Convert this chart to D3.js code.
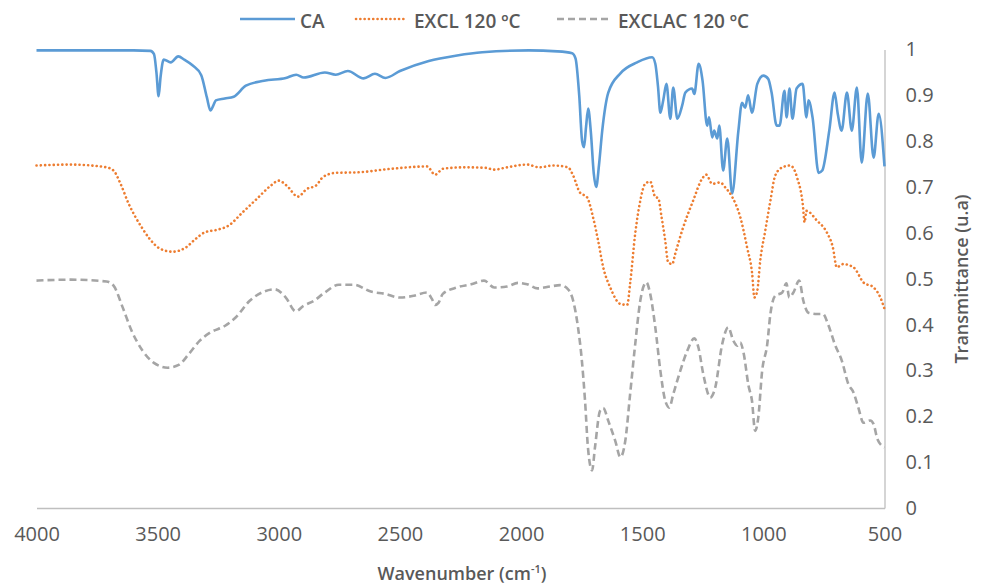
<!DOCTYPE html>
<html>
<head>
<meta charset="utf-8">
<script src="https://cdnjs.cloudflare.com/ajax/libs/d3/7.8.5/d3.min.js"></script>
<style>
  html, body { margin: 0; padding: 0; background: #ffffff; }
  svg { display: block; }
  text { font-family: "Open Sans", "Noto Sans", sans-serif; fill: #595959; }
</style>
</head>
<body>
<svg id="chart" width="983" height="586"></svg>
<script>
// ---------- DATA ----------
const seriesNames = ["CA", "EXCL 120 ºC", "EXCLAC 120 ºC"];
const xTicks = [4000, 3500, 3000, 2500, 2000, 1500, 1000, 500];
const yTicks = [0, 0.1, 0.2, 0.3, 0.4, 0.5, 0.6, 0.7, 0.8, 0.9, 1];

const caWave = [4000,3600,3530,3515,3505,3496,3488,3475,3446,3415,3390,3355,3320,3297,3282,3270,3260,3223,3186,3136,3061,2971,2928,2897,2810,2765,2715,2650,2603,2560,2500,2381,2264,2160,1968,1850,1789,1775,1760,1748,1740,1732,1723,1712,1700,1690,1678,1665,1640,1590,1521,1459,1446,1435,1425,1413,1400,1384,1372,1355,1335,1322,1294,1285,1267,1251,1232,1224,1211,1203,1190,1182,1166,1149,1129,1103,1088,1075,1063,1047,1025,1000,980,966,945,933,913,904,892,880,863,838,822,814,797,772,757,728,706,693,677,655,635,614,594,569,545,524,500];
const caT = [0.998,0.998,0.997,0.99,0.95,0.898,0.94,0.978,0.972,0.985,0.978,0.965,0.944,0.896,0.867,0.878,0.889,0.893,0.897,0.921,0.932,0.938,0.945,0.939,0.95,0.945,0.953,0.937,0.947,0.938,0.953,0.975,0.987,0.994,0.998,0.996,0.992,0.98,0.90,0.80,0.787,0.83,0.871,0.82,0.73,0.70,0.75,0.823,0.906,0.948,0.972,0.983,0.969,0.92,0.862,0.89,0.925,0.849,0.917,0.849,0.878,0.906,0.915,0.903,0.969,0.932,0.834,0.852,0.808,0.823,0.806,0.834,0.736,0.806,0.686,0.823,0.884,0.873,0.90,0.862,0.925,0.943,0.936,0.906,0.834,0.834,0.91,0.852,0.915,0.849,0.915,0.925,0.852,0.889,0.852,0.731,0.736,0.823,0.906,0.86,0.823,0.906,0.823,0.917,0.753,0.904,0.764,0.86,0.745];

const exclWave = [4000,3859,3711,3682,3653,3620,3591,3562,3533,3488,3438,3384,3343,3306,3253,3207,3149,3091,3033,3000,2967,2921,2884,2847,2817,2764,2677,2532,2388,2355,2322,2235,2148,2111,2058,1975,1925,1868,1806,1785,1757,1728,1703,1682,1661,1632,1590,1562,1550,1529,1508,1488,1467,1446,1434,1420,1405,1393,1376,1364,1331,1290,1253,1236,1211,1178,1157,1128,1095,1067,1046,1037,1025,1013,992,971,951,922,889,861,836,830,822,779,738,713,697,671,628,587,545,517,500];
const exclT = [0.747,0.749,0.743,0.736,0.707,0.664,0.634,0.609,0.587,0.565,0.559,0.568,0.587,0.601,0.607,0.616,0.645,0.674,0.703,0.714,0.703,0.679,0.696,0.703,0.722,0.731,0.732,0.74,0.745,0.727,0.74,0.743,0.742,0.738,0.743,0.749,0.743,0.747,0.743,0.725,0.688,0.678,0.634,0.583,0.525,0.481,0.445,0.443,0.489,0.598,0.670,0.707,0.712,0.678,0.676,0.634,0.583,0.536,0.532,0.554,0.612,0.670,0.718,0.727,0.707,0.710,0.699,0.678,0.634,0.568,0.510,0.459,0.474,0.539,0.605,0.670,0.725,0.743,0.747,0.721,0.656,0.623,0.648,0.627,0.601,0.568,0.525,0.532,0.525,0.492,0.481,0.459,0.434];

const exclacWave = [4000,3859,3711,3682,3644,3607,3562,3517,3459,3413,3371,3326,3282,3223,3177,3120,3061,3017,2971,2930,2898,2855,2810,2752,2690,2620,2562,2500,2442,2389,2368,2355,2340,2323,2265,2206,2153,2111,2058,2013,1975,1932,1880,1839,1806,1785,1765,1749,1736,1724,1707,1695,1674,1661,1640,1611,1590,1570,1550,1529,1508,1483,1467,1446,1425,1405,1388,1372,1343,1314,1285,1268,1248,1219,1199,1170,1145,1124,1108,1095,1082,1061,1047,1034,1021,1005,984,971,951,922,905,893,876,852,835,814,779,754,733,705,676,649,628,608,587,559,545,529,500];
const exclacT = [0.496,0.498,0.494,0.485,0.437,0.386,0.343,0.317,0.306,0.312,0.336,0.365,0.383,0.397,0.416,0.452,0.472,0.477,0.459,0.429,0.441,0.452,0.470,0.487,0.487,0.472,0.467,0.459,0.463,0.470,0.456,0.443,0.448,0.467,0.481,0.488,0.496,0.481,0.483,0.491,0.488,0.479,0.483,0.486,0.477,0.452,0.394,0.321,0.234,0.132,0.082,0.132,0.212,0.218,0.190,0.146,0.111,0.146,0.248,0.357,0.452,0.492,0.467,0.394,0.299,0.234,0.219,0.248,0.299,0.343,0.370,0.350,0.292,0.241,0.262,0.357,0.394,0.365,0.354,0.361,0.339,0.266,0.234,0.168,0.197,0.299,0.357,0.423,0.463,0.470,0.490,0.459,0.470,0.496,0.452,0.426,0.423,0.423,0.401,0.357,0.321,0.270,0.252,0.219,0.186,0.191,0.183,0.150,0.132];

// ---------- CHART ----------
const svg = d3.select("#chart");
const x = d3.scaleLinear().domain([4000, 500]).range([36.5, 884.5]);
const y = d3.scaleLinear().domain([0, 1]).range([508, 49.5]);

const styles = [
  { color: "#5B9BD5", dash: null, cap: "butt" },
  { color: "#ED7D31", dash: "0.1 4.2", cap: "round" },
  { color: "#A5A5A5", dash: "7 4", cap: "butt" }
];

const seriesData = [
  caWave.map((w, i) => [w, caT[i]]),
  exclWave.map((w, i) => [w, exclT[i]]),
  exclacWave.map((w, i) => [w, exclacT[i]])
];

// axes
const xAxis = d3.axisBottom(x).tickValues(xTicks).tickSize(0).tickPadding(19).tickFormat(d3.format("d"));
const gx = svg.append("g").attr("transform", "translate(0,508)").call(xAxis);
gx.select(".domain").attr("stroke", "#BFBFBF").attr("stroke-width", 1.3);
gx.selectAll("text").attr("font-size", "20px").attr("fill", "#595959").attr("font-family", "Open Sans");

const yAxis = d3.axisRight(y).tickValues(yTicks).tickSize(0).tickPadding(21).tickFormat(d => d === 0 || d === 1 ? String(d) : d3.format(".1f")(d));
const gy = svg.append("g").attr("transform", "translate(884.5,0)").call(yAxis);
gy.select(".domain").attr("stroke", "#BFBFBF").attr("stroke-width", 1.3);
gy.selectAll("text").attr("font-size", "20px").attr("fill", "#595959").attr("font-family", "Open Sans");

// lines
const line = d3.line().x(d => x(d[0])).y(d => y(d[1])).curve(d3.curveMonotoneX);
seriesData.forEach((data, i) => {
  svg.append("path")
    .datum(data)
    .attr("fill", "none")
    .attr("stroke", styles[i].color)
    .attr("stroke-width", 2.6)
    .attr("stroke-linejoin", "round")
    .attr("stroke-linecap", styles[i].cap)
    .attr("stroke-dasharray", styles[i].dash)
    .attr("d", line);
});

// axis titles
const xt = svg.append("text")
  .attr("x", 462).attr("y", 580)
  .attr("text-anchor", "middle")
  .attr("font-size", "18px").attr("font-weight", 600);
xt.append("tspan").text("Wavenumber (cm");
xt.append("tspan").attr("font-size", "11px").attr("dy", -7).text("-1");
xt.append("tspan").attr("dy", 7).text(")");

svg.append("text")
  .attr("transform", "translate(968,279) rotate(-90)")
  .attr("text-anchor", "middle")
  .attr("font-size", "18px").attr("font-weight", 600)
  .text("Transmittance (u.a)");

// legend
const legendItems = [
  { x1: 240, x2: 295, tx: 300 },
  { x1: 356, x2: 405, tx: 414 },
  { x1: 557, x2: 612, tx: 618 }
];
legendItems.forEach((it, i) => {
  svg.append("line")
    .attr("x1", it.x1).attr("x2", it.x2).attr("y1", 19).attr("y2", 19)
    .attr("stroke", styles[i].color).attr("stroke-width", 2.6)
    .attr("stroke-linecap", styles[i].cap)
    .attr("stroke-dasharray", styles[i].dash);
  svg.append("text")
    .attr("x", it.tx).attr("y", 28)
    .attr("font-size", "19px").attr("font-weight", 600)
    .text(seriesNames[i]);
});
</script>
</body>
</html>
